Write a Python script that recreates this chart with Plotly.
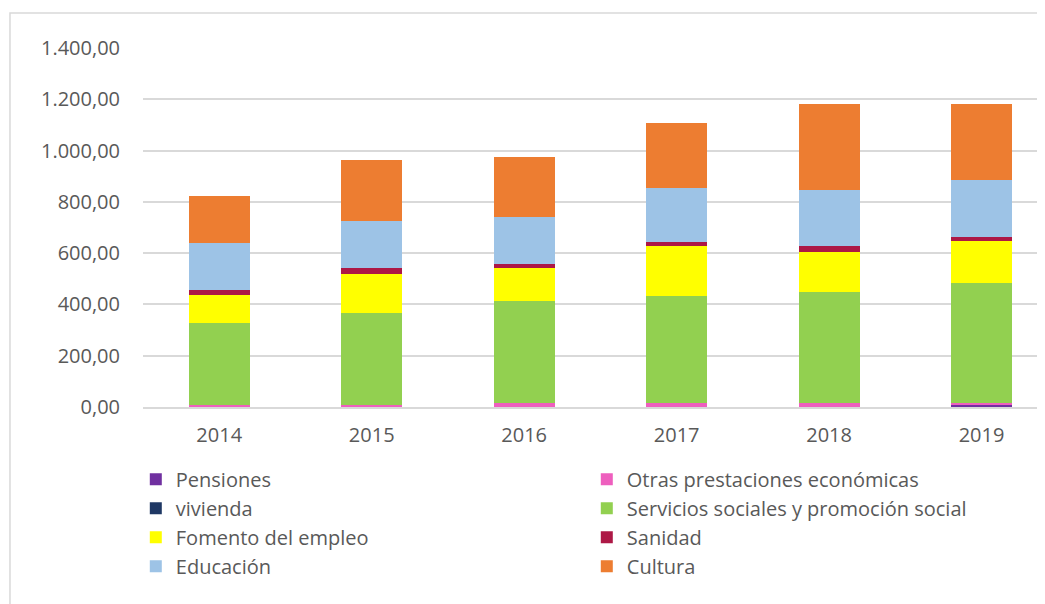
import plotly.graph_objects as go

years = ["2014", "2015", "2016", "2017", "2018", "2019"]
pensiones = [0, 0, 0, 0, 0, 8]
otras = [8, 8, 16, 16, 16, 6]
vivienda = [0, 0, 0, 0, 0, 0]
servicios = [320, 360, 396, 417, 433, 468]
fomento = [107, 151, 130, 195, 154, 167]
sanidad = [23, 23, 16, 14, 25, 15]
educacion = [182, 183, 182, 213, 218, 221]
cultura = [182, 238, 235, 251, 336, 297]

series = [
    ("Pensiones", pensiones, "#7030A0"),
    ("Otras prestaciones económicas", otras, "#EE5FBE"),
    ("vivienda", vivienda, "#1F3864"),
    ("Servicios sociales y promoción social", servicios, "#92D050"),
    ("Fomento del empleo", fomento, "#FFFF00"),
    ("Sanidad", sanidad, "#AD1846"),
    ("Educación", educacion, "#9DC3E6"),
    ("Cultura", cultura, "#ED7D31"),
]

fig = go.Figure()
for name, vals, col in series:
    fig.add_trace(go.Bar(x=years, y=vals, name=name, marker=dict(color=col, line=dict(width=0))))

font_col = "#595959"
fs = 20
fig.update_layout(
    barmode="stack",
    bargap=0.6,
    width=1037, height=596,
    margin=dict(l=135, r=2, t=40, b=197, autoexpand=False),
    paper_bgcolor="white", plot_bgcolor="white",
    separators=",.",
    font=dict(family="Open Sans, Liberation Sans, sans-serif", size=fs, color=font_col),
    yaxis=dict(range=[0, 1400], dtick=200, tickformat=",.2f", showgrid=True,
               gridcolor="#D9D9D9", gridwidth=1.5, zeroline=False, showline=False,
               ticklabelstandoff=22, tickfont=dict(size=fs, color=font_col)),
    xaxis=dict(range=[-0.5, 5.403], showline=True, linecolor="#D9D9D9", linewidth=1.5, ticks="",
               ticklabelstandoff=9, tickfont=dict(size=fs, color=font_col)),
    legend=dict(orientation="h", x=-0.008, xanchor="left", y=-0.147, yanchor="top",
                entrywidth=406, entrywidthmode="pixels", traceorder="normal",
                font=dict(size=fs, color=font_col), itemwidth=30),
    shapes=[dict(type="rect", xref="paper", yref="paper", x0=-0.1478, x1=1.02,
                 y0=-0.62, y1=1.0975, line=dict(color="#D9D9D9", width=1.5),
                 fillcolor="rgba(0,0,0,0)", layer="below")],
)

fig.write_html("out.html")
